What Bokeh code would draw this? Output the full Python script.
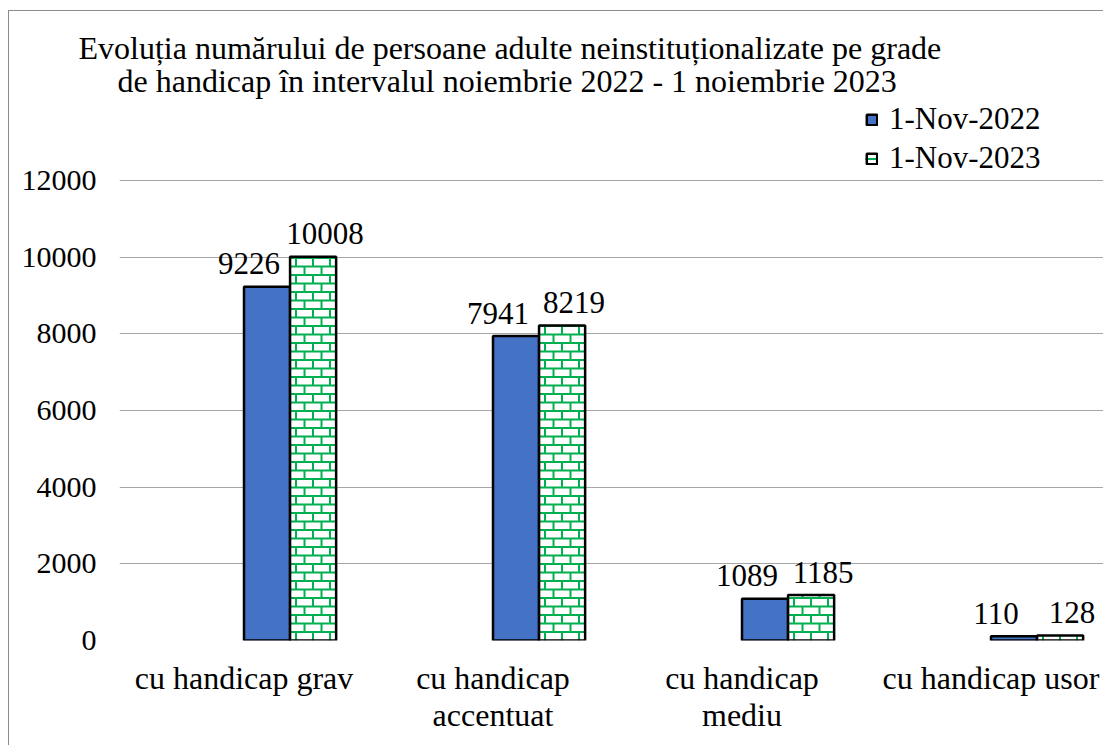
from bokeh.plotting import figure
from bokeh.models import (Range1d, FixedTicker, Title, Legend, LegendItem, Grid,
                          ColumnDataSource)
from bokeh.core.properties import value
from bokeh.embed import file_html
from bokeh.resources import INLINE

# ---- data ----
categories = ["cu handicap grav", "cu handicap\naccentuat", "cu handicap\nmediu", "cu handicap usor"]
series_names = ["1-Nov-2022", "1-Nov-2023"]
values_2022 = [9226, 7941, 1089, 110]
values_2023 = [10008, 8219, 1185, 128]
y_ticks = [0, 2000, 4000, 6000, 8000, 10000, 12000]
title_lines = [
    "Evoluția numărului de persoane adulte neinstituționalizate pe grade",
    "de handicap în intervalul noiembrie 2022 - 1 noiembrie 2023",
]

FONT = "Liberation Serif"
BLUE = "#4472C4"
GREEN = "#00B050"
GRID = "#a6a6a6"

# page geometry (canvas starts at page x=9, y=11)
W, H = 1095, 735
FRAME_TOP_PAGE, AXIS_TOP_PAGE, FRAME_BOTTOM_PAGE = 96, 180, 640
FL = 110
FT = FRAME_TOP_PAGE - 11
FB = 11 + H - FRAME_BOTTOM_PAGE
CAT_PX = 249
x_end = (W - FL) / CAT_PX
y_end = y_ticks[-1] * (FRAME_BOTTOM_PAGE - FRAME_TOP_PAGE) / (FRAME_BOTTOM_PAGE - AXIS_TOP_PAGE)
PX_PER_Y = (FRAME_BOTTOM_PAGE - AXIS_TOP_PAGE) / y_ticks[-1]

BAR_W = 0.185
OFF_1, OFF_2 = 0.0925, 0.2775

p = figure(width=W, height=H, output_backend="svg", toolbar_location=None,
           x_range=Range1d(0, x_end), y_range=Range1d(0, y_end),
           min_border_left=FL, min_border_right=0, min_border_top=FT,
           min_border_bottom=FB)
p.title.visible = False
p.styles = {"border-left": "1px solid #8c8c8c", "border-top": "1px solid #8c8c8c",
            "margin-top": "10px", "margin-left": "8px"}
p.outline_line_color = None
p.background_fill_color = "white"
p.border_fill_color = "white"

idx = list(range(len(categories)))
src = ColumnDataSource(dict(
    x1=[i + 0.5 + OFF_1 for i in idx],
    x2=[i + 0.5 + OFF_2 for i in idx],
    v1=values_2022, v2=values_2023,
    l1=[str(v) for v in values_2022], l2=[str(v) for v in values_2023],
))

# brick pattern for the second series, derived from its bar heights
BRICK_W = 17 / CAT_PX
BRICK_H = 8.5 / PX_PER_Y
bx0, by0, bx1, by1 = [], [], [], []
for i, v in zip(idx, values_2023):
    xl = i + 0.5 + OFF_2 - BAR_W / 2
    xr = xl + BAR_W
    k = 0
    while k * BRICK_H < v:
        yb = k * BRICK_H
        yt = min((k + 1) * BRICK_H, v)
        if k > 0:
            bx0.append(xl); bx1.append(xr); by0.append(yb); by1.append(yb)
        xv = xl + BRICK_W * 0.35 + (k % 2) * BRICK_W / 2
        while xv < xr - 0.005:
            bx0.append(xv); bx1.append(xv); by0.append(yb); by1.append(yt)
            xv += BRICK_W
        k += 1
brick_src = ColumnDataSource(dict(x0=bx0, y0=by0, x1=bx1, y1=by1))

# plot-area box: gridlines at y ticks plus a left edge line
p.xgrid.visible = False
p.ygrid.grid_line_color = GRID
p.ygrid.grid_line_width = 1
p.add_layout(Grid(dimension=0, ticker=FixedTicker(ticks=[0]),
                  bounds=(0, y_ticks[-1]), grid_line_color=GRID, grid_line_width=1))

r1 = p.vbar(x="x1", top="v1", width=BAR_W, source=src, fill_color=BLUE,
            line_color="black", line_width=2.5)
r2 = p.vbar(x="x2", top="v2", width=BAR_W, source=src, fill_color="white",
            line_color=None)
rb = p.segment(x0="x0", y0="y0", x1="x1", y1="y1", source=brick_src,
               line_color=GREEN, line_width=2)
r2b = p.vbar(x="x2", top="v2", width=BAR_W, source=src, fill_color=None,
             line_color="black", line_width=2.5)

for xcol, ycol, lcol, dx in (("x1", "v1", "l1", -18), ("x2", "v2", "l2", 12)):
    p.text(x=xcol, y=ycol, text=lcol, source=src, text_align="center",
           text_baseline="alphabetic", x_offset=dx, y_offset=-23,
           text_font=value(FONT), text_font_size="31px", text_color="black")

# axes
p.xaxis.ticker = FixedTicker(ticks=[i + 0.5 for i in idx])
p.xaxis.major_label_overrides = {i + 0.5: c for i, c in zip(idx, categories)}
p.xaxis.major_label_text_font = FONT
p.xaxis.major_label_text_font_size = "32px"
p.xaxis.major_label_text_line_height = 1.05
p.xaxis.major_label_text_color = "black"
p.xaxis.major_label_standoff = 13
p.xaxis.axis_line_color = None
p.xaxis.major_tick_line_color = None
p.xaxis.minor_tick_line_color = None

p.yaxis.ticker = FixedTicker(ticks=y_ticks)
p.yaxis.major_label_text_font = FONT
p.yaxis.major_label_text_font_size = "30px"
p.yaxis.major_label_text_color = "black"
p.yaxis.major_label_standoff = 17
p.yaxis.axis_line_color = None
p.yaxis.major_tick_line_color = None
p.yaxis.minor_tick_line_color = None

legend = Legend(items=[LegendItem(label=series_names[0], renderers=[r1]),
                       LegendItem(label=series_names[1], renderers=[r2, rb, r2b])],
                location=(746, FRAME_BOTTOM_PAGE - 176), orientation="vertical",
                label_text_font=FONT, label_text_font_size="31px",
                label_text_color="black", glyph_width=13, glyph_height=13,
                label_standoff=11, spacing=3, padding=0, margin=0,
                border_line_color=None, background_fill_alpha=0)
p.add_layout(legend, "center")

t2 = Title(text=title_lines[1], align="left", offset=-2, standoff=-5,
           text_font=FONT, text_font_size="32px", text_font_style="normal",
           text_color="black")
t1 = Title(text=title_lines[0], align="left", offset=-41, standoff=-5,
           text_font=FONT, text_font_size="32px", text_font_style="normal",
           text_color="black")
p.add_layout(t2, "above")
p.add_layout(t1, "above")

open("out.html", "w").write(file_html(p, INLINE))
